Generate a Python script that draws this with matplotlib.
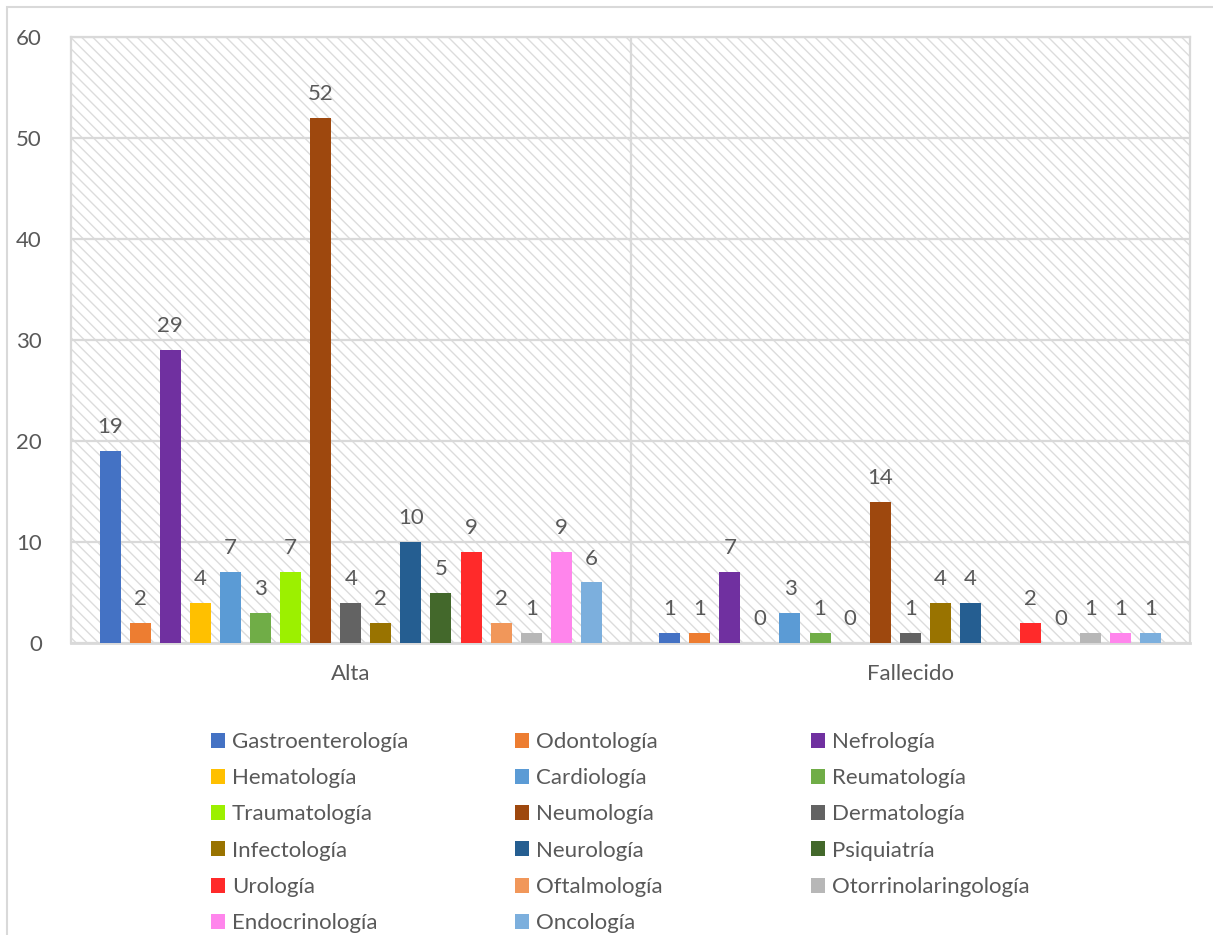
import numpy as np
import matplotlib
matplotlib.use('Agg')
import matplotlib.pyplot as plt
from matplotlib.patches import Rectangle

# outcome groups on the x axis
groups = ['Alta', 'Fallecido']

specialties = [
    'Gastroenterología', 'Odontología', 'Nefrología', 'Hematología',
    'Cardiología', 'Reumatología', 'Traumatología', 'Neumología',
    'Dermatología', 'Infectología', 'Neurología', 'Psiquiatría',
    'Urología', 'Oftalmología', 'Otorrinolaringología', 'Endocrinología',
    'Oncología',
]

# patients per specialty; nan = no value recorded
alta = [19, 2, 29, 4, 7, 3, 7, 52, 4, 2, 10, 5, 9, 2, 1, 9, 6]
fallecido = [1, 1, 7, 0, 3, 1, 0, 14, 1, 4, 4, np.nan, 2, 0, 1, 1, 1]

colors = [
    '#4472C4', '#ED7D31', '#7030A0', '#FFC000', '#5B9BD5', '#70AD47',
    '#9CF000', '#9E480E', '#636363', '#997300', '#255E91', '#43682B',
    '#FF2A2A', '#F1975A', '#B7B7B7', '#FF85EC', '#7CAFDD',
]

TEXT = '#595959'
GRID = '#d9d9d9'
FS = 16

plt.rcParams['font.family'] = ['Lato', 'DejaVu Sans']
plt.rcParams['hatch.linewidth'] = 1.0

fig = plt.figure(figsize=(12.13, 9.35), dpi=100)

# outer chart frame
fig.patches.append(Rectangle((7 / 1213, -0.1), 1.2, 1 - 7 / 935 + 0.1,
                             transform=fig.transFigure, fill=False,
                             edgecolor=GRID, linewidth=1.5, zorder=0))

ax = fig.add_axes([71 / 1213, 1 - 643 / 935, (1190 - 71) / 1213, (643 - 37) / 935])

# hatched plot background
ax.add_patch(Rectangle((0, 0), 1, 1, transform=ax.transAxes,
                       facecolor='white', edgecolor='#dcdcdc', hatch='\\\\\\',
                       linewidth=0, zorder=0))

n = len(specialties)
slot = 30.1 / 560
width = 21 / 560
x = np.arange(len(groups))

data = np.array([alta, fallecido], dtype=float)

handles = []
for i, name in enumerate(specialties):
    vals = data[:, i]
    pos = x + (i - (n - 1) / 2) * slot
    bars = ax.bar(pos, np.nan_to_num(vals), width, color=colors[i],
                  label=name, zorder=3)
    handles.append(bars)
    for p, v in zip(pos, vals):
        if np.isnan(v):
            continue
        ax.annotate(f'{int(v)}', (p, v), xytext=(0, 10), textcoords='offset points',
                    ha='center', va='bottom', fontsize=FS, color=TEXT, zorder=4)

ax.set_xlim(-0.5, 1.5)
ax.set_ylim(0, 60)
ax.set_yticks(range(0, 61, 10))
ax.set_xticks(x)
ax.set_xticklabels(groups)
ax.tick_params(length=0, labelsize=FS, labelcolor=TEXT)
ax.tick_params(axis='y', pad=21)
ax.tick_params(axis='x', pad=15)

ax.yaxis.grid(True, color=GRID, linewidth=1.6, zorder=1)
ax.set_axisbelow(True)
ax.axvline(0.5, color=GRID, linewidth=1.6, zorder=1)

for side in ['top', 'right', 'left']:
    ax.spines[side].set_color(GRID)
    ax.spines[side].set_linewidth(1.6)
ax.spines['bottom'].set_color(GRID)
ax.spines['bottom'].set_linewidth(2)

# legend laid out row by row in three equal-width columns
col_x = [211 / 1213, 515 / 1213, 811 / 1213]
for c in range(3):
    idx = list(range(c, n, 3))
    leg = fig.legend([handles[k] for k in idx], [specialties[k] for k in idx],
                     loc='upper left', bbox_to_anchor=(col_x[c], 1 - 732 / 935),
                     frameon=False, fontsize=FS, labelcolor=TEXT,
                     handlelength=0.65, handleheight=0.65, handletextpad=0.3,
                     labelspacing=0.73, borderpad=0, borderaxespad=0)

fig.savefig('out.png', dpi=100, facecolor='white')
